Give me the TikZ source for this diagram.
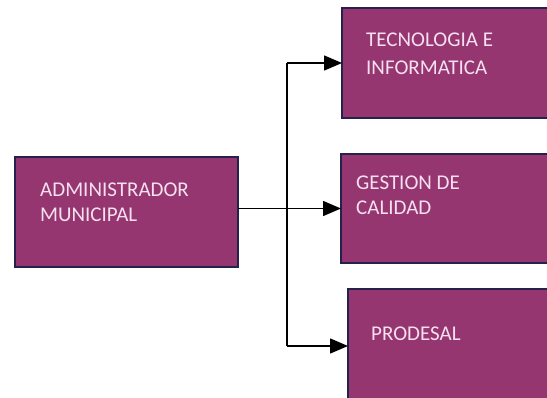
\documentclass[tikz,border=0pt]{standalone}
\usepackage{fontspec}
\setmainfont{Carlito}
\usetikzlibrary{arrows.meta}
\definecolor{boxfill}{RGB}{150,54,112}
\definecolor{boxline}{RGB}{36,34,76}
\definecolor{boxtext}{RGB}{246,224,240}
\begin{document}
\begin{tikzpicture}[x=1pt,y=-1pt,
  orgbox/.style={draw=boxline,line width=2.5pt,fill=boxfill,inner sep=0pt,outer sep=0pt},
  lbl/.style={anchor=base west,inner sep=0pt,text=boxtext,font=\fontsize{21}{25}\selectfont},
  conn/.style={draw=black,line width=1.5pt},
  arr/.style={conn,-{Triangle[length=18pt,width=15pt]}}]
\useasboundingbox (0,0) rectangle (547,397);
\clip (0,0) rectangle (547,397);
\fill[white] (0,0) rectangle (547,397);
% boxes
\node[orgbox,minimum width=223pt,minimum height=110pt] (admin) at (126.5,212) {};
\node[orgbox,minimum width=230pt,minimum height=110pt,anchor=west] (top) at (342,63) {};
\node[orgbox,minimum width=230pt,minimum height=109pt,anchor=west] (mid) at (341,208.5) {};
\node[orgbox,minimum width=230pt,minimum height=114pt,anchor=west] (bot) at (348,346) {};
% labels
\node[lbl] (t1) at (40,196) {ADMINISTRADOR};
\node[lbl] (t2) at (40,221.5) {MUNICIPAL};
\node[lbl] (t3) at (366,46.5) {TECNOLOGIA E};
\node[lbl] (t4) at (366,74.5) {INFORMATICA};
\node[lbl] (t5) at (356,189) {GESTION DE};
\node[lbl] (t6) at (356,214) {CALIDAD};
\node[lbl] (t7) at (371,340) {PRODESAL};
% connectors
\coordinate (jx) at (287,0);
\draw[arr] (admin.east |- mid.west) -- (mid.west);
\draw[conn] (jx |- top.west) -- (jx |- bot.west);
\draw[arr] (jx |- top.west) -- (top.west);
\draw[arr] (jx |- bot.west) -- (bot.west);
\end{tikzpicture}
\end{document}
